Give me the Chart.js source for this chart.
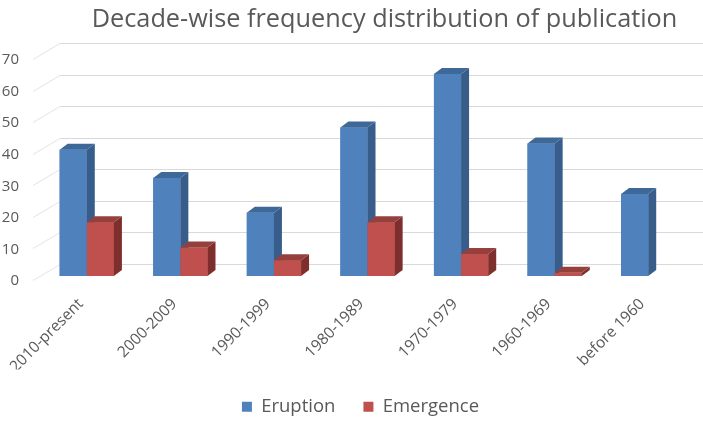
<!DOCTYPE html>
<html>
<head>
<meta charset="utf-8">
<script src="https://cdn.jsdelivr.net/npm/chart.js@4.4.0/dist/chart.umd.min.js"></script>
<style>
    html, body { margin: 0; padding: 0; background: #fff; }
    #wrap { width: 703px; height: 421px; }
</style>
</head>
<body>
<div id="wrap"><canvas id="chart"></canvas></div>
<script>
// data
const categories = ['2010-present', '2000-2009', '1990-1999', '1980-1989', '1970-1979', '1960-1969', 'before 1960'];
const eruption = [40, 31, 20, 47, 64, 42, 26];
const emergence = [17, 9, 5, 17, 7, 1, 0];
const yMin = 0;
const yMax = 70;
const yStep = 10;

const FONT = '"Open Sans", Lato, sans-serif';
const TEXT_COLOR = '#595959';

// fake 3d: how far the side/top faces go back
const DEPTH_X = 8;
const DEPTH_Y = 6;
const faceColors = [
    { side: '#385D8A', top: '#3D6898' },   // Eruption
    { side: '#7E2F2D', top: '#96403D' }    // Emergence
];

// back wall + floor lines, like Excel's 3d column chart
const wallPlugin = {
    id: 'wall',
    beforeDatasetsDraw(chart) {
        const ctx = chart.ctx;
        const ys = chart.scales.y;
        const area = chart.chartArea;
        ctx.save();
        ctx.lineWidth = 1;
        ys.ticks.forEach(t => {
            const py = Math.round(ys.getPixelForValue(t.value)) + 0.5;
            // slanted bit on the left (side wall)
            ctx.strokeStyle = '#E3E3E3';
            ctx.beginPath();
            ctx.moveTo(area.left - 7, py + 4);
            ctx.lineTo(area.left + 20, py - 12);
            ctx.stroke();
            // back wall line
            ctx.strokeStyle = '#D9D9D9';
            ctx.beginPath();
            ctx.moveTo(area.left + 20, py - 12);
            ctx.lineTo(chart.width, py - 12);
            ctx.stroke();
        });
        ctx.restore();
    }
};

// Chart.js draws the last dataset first, so redraw the bars here in
// dataset order and add the side and top faces after each front.
const bar3dPlugin = {
    id: 'bar3d',
    afterDatasetsDraw(chart) {
        const ctx = chart.ctx;
        ctx.save();
        chart.data.datasets.forEach((ds, di) => {
            const meta = chart.getDatasetMeta(di);
            const colors = faceColors[di];
            meta.data.forEach((bar, i) => {
                if (!ds.data[i]) return;
                bar.draw(ctx);
                const p = bar.getProps(['x', 'y', 'base', 'width'], true);
                const left = p.x - p.width / 2;
                const right = p.x + p.width / 2;
                // side face
                ctx.fillStyle = colors.side;
                ctx.beginPath();
                ctx.moveTo(right, p.y);
                ctx.lineTo(right + DEPTH_X, p.y - DEPTH_Y);
                ctx.lineTo(right + DEPTH_X, p.base - DEPTH_Y);
                ctx.lineTo(right, p.base);
                ctx.closePath();
                ctx.fill();
                // top face
                ctx.fillStyle = colors.top;
                ctx.beginPath();
                ctx.moveTo(left, p.y);
                ctx.lineTo(left + DEPTH_X, p.y - DEPTH_Y);
                ctx.lineTo(right + DEPTH_X, p.y - DEPTH_Y);
                ctx.lineTo(right, p.y);
                ctx.closePath();
                ctx.fill();
            });
        });
        ctx.restore();
    }
};

// the title and legend in the original sit a bit right of the middle
const nudgePlugin = {
    id: 'nudge',
    afterLayout(chart) {
        chart.titleBlock.left += 74;
        chart.legend.left += 26;
    }
};

const PLOT_BOTTOM = 276;
const PAD_BOTTOM = -5;

new Chart(document.getElementById('chart'), {
    type: 'bar',
    data: {
        labels: categories,
        datasets: [
            {
                label: 'Eruption',
                data: eruption,
                backgroundColor: '#4F81BD',
                categoryPercentage: 0.58,
                barPercentage: 1.0
            },
            {
                label: 'Emergence',
                data: emergence,
                backgroundColor: '#C0504D',
                categoryPercentage: 0.58,
                barPercentage: 1.0
            }
        ]
    },
    plugins: [wallPlugin, bar3dPlugin, nudgePlugin],
    options: {
        responsive: true,
        maintainAspectRatio: false,
        animation: false,
        events: [],
        layout: { padding: { left: 0, right: 8, top: 0, bottom: PAD_BOTTOM } },
        plugins: {
            title: {
                display: true,
                text: 'Decade-wise frequency distribution of publication',
                color: TEXT_COLOR,
                font: { family: FONT, size: 25.3, weight: 'normal', lineHeight: 1.2 },
                padding: { top: 5, bottom: 19.6 }
            },
            legend: {
                position: 'bottom',
                labels: {
                    color: TEXT_COLOR,
                    font: { family: FONT, size: 18.5 },
                    boxWidth: 10,
                    boxHeight: 10,
                    padding: 28,
                    sort: (a, b) => a.datasetIndex - b.datasetIndex
                }
            },
            tooltip: { enabled: false }
        },
        scales: {
            x: {
                grid: { display: false, drawTicks: false },
                border: { display: false },
                ticks: {
                    color: TEXT_COLOR,
                    font: { family: FONT, size: 15.5 },
                    minRotation: 45,
                    maxRotation: 45,
                    padding: 19,
                    labelOffset: -6
                },
                afterFit(scale) {
                    scale.height = scale.chart.height - PAD_BOTTOM - PLOT_BOTTOM - scale.chart.legend.height;
                    // keep the rotated first label from pushing the plot right
                    scale.paddingLeft = 0;
                    scale.paddingRight = 0;
                }
            },
            y: {
                min: yMin,
                max: yMax,
                grid: { display: false, drawTicks: false },
                border: { display: false },
                ticks: {
                    stepSize: yStep,
                    color: TEXT_COLOR,
                    font: { family: FONT, size: 15 },
                    padding: 21,
                    labelOffset: 5
                },
                afterFit(scale) {
                    scale.width = 40;
                }
            }
        }
    }
});
</script>
</body>
</html>
